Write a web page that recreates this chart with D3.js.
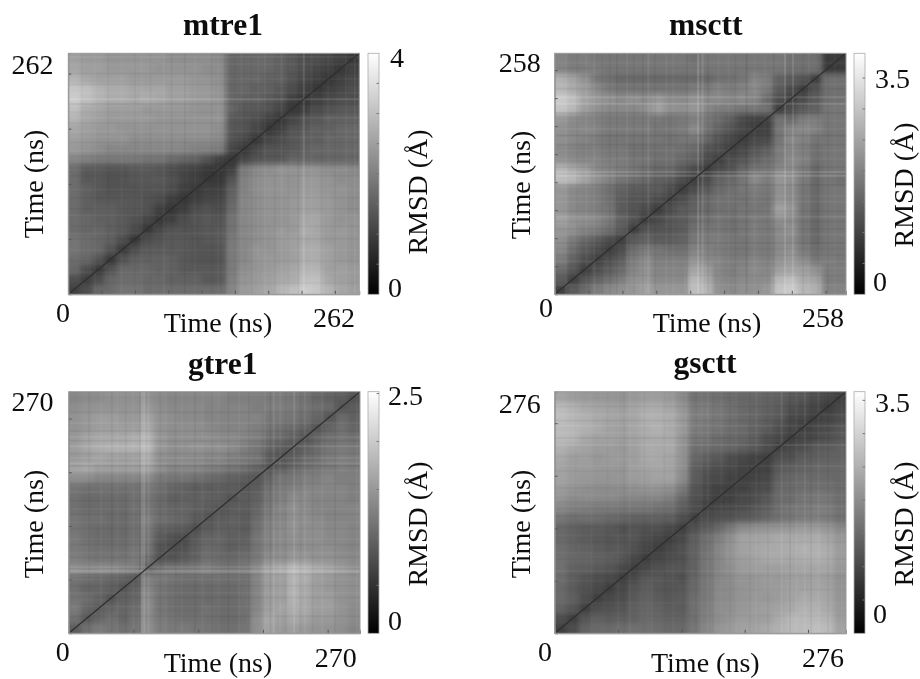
<!DOCTYPE html>
<html>
<head>
<meta charset="utf-8">
<script src="https://cdnjs.cloudflare.com/ajax/libs/d3/7.8.5/d3.min.js"></script>
<style>
  html, body { margin: 0; padding: 0; background: #fff; }
  text { font-family: "Liberation Serif", serif; fill: #111; }
</style>
</head>
<body>
<svg id="chart" width="920" height="679"></svg>
<script>
/* Data: lower triangle of each RMSD matrix in Angstrom, 24 time bins, row 0 = earliest time */
const mtre1Rows = [
  [1.0],
  [1.2,1.0],
  [1.6,1.2,0.9],
  [1.7,1.6,1.3,0.9],
  [1.8,1.7,1.6,1.3,0.9],
  [1.8,1.7,1.6,1.5,1.2,0.9],
  [1.7,1.6,1.6,1.5,1.4,1.2,0.9],
  [1.7,1.6,1.5,1.5,1.4,1.3,1.1,0.9],
  [1.7,1.5,1.5,1.5,1.4,1.4,1.3,1.0,0.9],
  [1.7,1.5,1.4,1.4,1.4,1.4,1.3,1.2,1.0,0.9],
  [1.7,1.5,1.4,1.3,1.3,1.3,1.3,1.3,1.2,1.0,0.9],
  [1.7,1.4,1.4,1.3,1.3,1.4,1.4,1.4,1.3,1.1,1.0,0.9],
  [1.7,1.4,1.4,1.3,1.3,1.4,1.4,1.3,1.2,1.1,1.0,0.9,0.9],
  [2.1,2.0,1.9,1.9,1.9,1.9,1.8,1.8,1.7,1.6,1.5,1.3,1.0,0.9],
  [2.4,2.3,2.2,2.1,2.1,2.1,2.1,2.1,2.1,2.1,2.0,2.0,1.9,1.1,0.9],
  [2.5,2.4,2.3,2.3,2.3,2.2,2.2,2.2,2.2,2.2,2.2,2.2,2.1,1.3,1.1,0.9],
  [2.6,2.5,2.4,2.4,2.3,2.3,2.3,2.3,2.3,2.3,2.3,2.3,2.2,1.4,1.3,1.1,0.9],
  [2.8,2.6,2.5,2.4,2.4,2.4,2.4,2.3,2.3,2.3,2.3,2.3,2.3,1.4,1.3,1.2,1.0,0.9],
  [3.0,2.7,2.6,2.5,2.5,2.5,2.4,2.4,2.4,2.4,2.3,2.3,2.3,1.6,1.4,1.4,1.3,1.1,0.9],
  [3.2,3.0,2.8,2.7,2.7,2.6,2.7,2.6,2.5,2.5,2.4,2.4,2.3,1.6,1.5,1.5,1.4,1.3,1.0,0.9],
  [3.1,3.0,2.8,2.7,2.7,2.6,2.6,2.6,2.5,2.5,2.4,2.4,2.3,1.6,1.6,1.5,1.5,1.4,1.2,1.0,0.9],
  [2.8,2.6,2.5,2.5,2.5,2.4,2.4,2.4,2.4,2.4,2.3,2.3,2.2,1.6,1.6,1.6,1.5,1.5,1.3,1.1,1.0,0.9],
  [2.6,2.5,2.5,2.4,2.4,2.4,2.4,2.3,2.3,2.3,2.3,2.2,2.2,1.6,1.6,1.6,1.6,1.5,1.4,1.2,1.1,1.0,0.9],
  [2.5,2.4,2.4,2.3,2.3,2.3,2.3,2.3,2.2,2.2,2.2,2.2,2.1,1.6,1.6,1.6,1.6,1.5,1.4,1.2,1.2,1.1,1.0,0.9]
];

const mscttRows = [
  [1.0],
  [1.4,1.0],
  [1.6,1.3,0.9],
  [1.9,1.5,1.2,1.0],
  [2.1,1.7,1.4,1.2,1.0],
  [2.2,1.9,1.6,1.4,1.2,1.0],
  [2.3,2.2,2.0,1.9,1.7,1.4,1.0],
  [2.5,2.3,2.2,2.1,1.9,1.5,1.3,1.0],
  [2.3,2.1,2.0,1.9,1.8,1.4,1.3,1.2,1.0],
  [2.3,2.1,2.0,1.9,1.7,1.4,1.3,1.3,1.2,1.0],
  [2.3,2.1,2.0,1.9,1.7,1.5,1.4,1.4,1.4,1.2,1.0],
  [2.9,2.8,2.5,2.2,2.0,1.8,1.7,1.6,1.5,1.4,1.2,1.0],
  [2.8,2.6,2.4,2.1,2.0,1.9,1.8,1.7,1.6,1.6,1.4,1.2,1.0],
  [2.2,2.1,2.0,2.0,1.9,1.9,1.8,1.8,1.7,1.7,1.6,1.5,1.2,1.0],
  [2.1,2.0,1.9,1.9,1.8,1.8,1.7,1.7,1.7,1.7,1.7,1.6,1.3,1.2,1.0],
  [2.2,2.1,2.0,1.9,1.8,1.8,1.8,1.8,1.8,1.7,1.8,1.8,1.6,1.3,1.1,1.0],
  [2.2,2.1,2.1,2.0,1.9,1.9,1.9,1.9,1.8,1.8,1.9,2.1,1.8,1.5,1.3,1.1,1.0],
  [2.3,2.1,2.0,1.9,1.8,1.8,1.8,1.8,1.8,1.7,1.8,1.9,1.8,1.6,1.4,1.1,1.0,1.0],
  [3.0,2.8,2.4,2.2,2.1,2.1,2.1,2.2,2.5,2.2,2.2,2.3,2.1,1.9,1.9,1.8,1.8,1.7,1.0],
  [3.1,2.9,2.5,2.3,2.2,2.1,2.2,2.1,2.3,2.1,2.1,2.2,2.1,2.1,2.0,2.1,2.0,1.6,1.2,1.0],
  [2.8,2.6,2.4,2.1,1.9,1.8,1.8,1.8,1.8,1.8,1.8,1.9,1.9,2.0,1.9,2.0,2.1,1.9,1.4,1.2,1.0],
  [2.7,2.5,2.2,1.8,1.7,1.6,1.6,1.6,1.6,1.6,1.6,1.6,1.6,1.7,1.7,1.8,2.0,1.9,1.5,1.4,1.3,1.0],
  [2.0,1.9,1.9,1.9,1.8,1.8,1.8,1.8,1.8,1.8,1.8,1.8,1.8,1.8,1.8,1.8,1.8,1.8,1.8,1.7,1.7,1.7,0.9],
  [2.0,1.9,1.9,1.8,1.8,1.8,1.8,1.8,1.8,1.8,1.8,1.7,1.8,1.8,1.8,1.8,1.8,1.8,1.8,1.7,1.7,1.7,0.9,0.9]
];

const gtre1Rows = [
  [0.9],
  [1.1,0.9],
  [1.2,1.0,0.9],
  [1.15,1.1,1.0,0.85],
  [1.1,1.0,1.0,0.95,0.85],
  [1.15,1.1,1.05,1.0,0.95,0.85],
  [1.4,1.35,1.35,1.35,1.3,1.25,0.95],
  [1.25,1.2,1.15,1.15,1.15,1.2,1.1,0.85],
  [1.2,1.15,1.1,1.1,1.1,1.15,1.15,0.85,0.8],
  [1.2,1.1,1.05,1.05,1.05,1.1,1.15,0.9,0.8,0.75],
  [1.15,1.1,1.05,1.05,1.05,1.1,1.2,1.0,0.95,0.9,0.8],
  [1.15,1.1,1.1,1.05,1.05,1.1,1.25,1.1,1.05,1.0,0.9,0.85],
  [1.1,1.05,1.05,1.05,1.05,1.1,1.15,1.05,1.0,1.0,0.95,0.9,0.85],
  [1.1,1.05,1.05,1.05,1.05,1.1,1.15,1.05,0.95,0.95,0.95,0.95,0.9,0.85],
  [1.15,1.1,1.1,1.1,1.1,1.1,1.2,1.1,1.0,0.95,0.9,0.9,0.9,0.9,0.85],
  [1.4,1.4,1.3,1.3,1.3,1.3,1.35,1.2,1.15,1.15,1.1,1.05,1.0,0.95,0.9,0.85],
  [1.6,1.65,1.55,1.55,1.55,1.55,1.6,1.4,1.3,1.3,1.3,1.25,1.2,1.15,1.1,1.0,0.85],
  [1.5,1.55,1.6,1.55,1.55,1.55,1.65,1.4,1.35,1.35,1.35,1.3,1.3,1.25,1.2,1.15,0.9,0.85],
  [1.55,1.65,1.7,1.75,1.75,1.75,1.8,1.5,1.4,1.4,1.45,1.4,1.4,1.35,1.25,1.15,1.0,0.9,0.85],
  [1.5,1.6,1.65,1.65,1.65,1.7,1.75,1.5,1.4,1.4,1.4,1.4,1.35,1.35,1.3,1.25,1.1,1.05,0.95,0.85],
  [1.45,1.5,1.55,1.55,1.55,1.55,1.65,1.45,1.4,1.4,1.4,1.35,1.3,1.3,1.3,1.25,1.15,1.1,1.05,1.0,0.85],
  [1.45,1.5,1.55,1.55,1.5,1.5,1.6,1.45,1.4,1.35,1.35,1.3,1.3,1.3,1.3,1.3,1.2,1.2,1.15,1.1,1.0,0.85],
  [1.4,1.45,1.45,1.45,1.45,1.45,1.5,1.4,1.35,1.35,1.35,1.3,1.3,1.3,1.3,1.25,1.25,1.25,1.2,1.15,1.1,1.05,0.85],
  [1.3,1.35,1.35,1.4,1.4,1.4,1.4,1.35,1.3,1.3,1.3,1.3,1.3,1.25,1.25,1.25,1.2,1.2,1.15,1.1,1.0,0.95,0.9,0.8]
];

const gscttRows = [
  [0.9],
  [1.1,0.9],
  [1.4,1.2,0.9],
  [1.5,1.35,1.1,0.9],
  [1.5,1.3,1.15,1.05,0.9],
  [1.55,1.35,1.2,1.1,1.05,0.9],
  [1.6,1.4,1.35,1.25,1.2,1.05,0.9],
  [1.6,1.5,1.45,1.4,1.35,1.25,1.05,0.9],
  [1.55,1.45,1.4,1.3,1.25,1.25,1.15,1.0,0.9],
  [1.5,1.4,1.3,1.25,1.2,1.2,1.2,1.1,1.0,0.9],
  [1.5,1.4,1.3,1.3,1.25,1.15,1.2,1.15,1.15,1.05,0.9],
  [1.7,1.6,1.6,1.55,1.5,1.45,1.4,1.4,1.4,1.35,1.15,0.95],
  [1.9,1.8,1.75,1.7,1.7,1.65,1.65,1.65,1.6,1.55,1.3,1.1,0.9],
  [2.1,2.0,2.0,1.95,1.95,1.9,1.9,1.9,1.9,1.8,1.5,1.15,1.0,0.9],
  [2.2,2.1,2.05,2.0,2.0,2.0,2.05,2.1,2.1,2.05,1.75,1.2,1.05,0.95,0.9],
  [2.3,2.2,2.15,2.1,2.1,2.1,2.2,2.25,2.3,2.3,2.0,1.3,1.1,1.05,0.95,0.9],
  [2.3,2.2,2.2,2.15,2.15,2.1,2.25,2.3,2.35,2.3,2.05,1.35,1.2,1.1,1.05,0.95,0.9],
  [2.4,2.25,2.25,2.15,2.2,2.2,2.25,2.4,2.4,2.35,2.1,1.5,1.35,1.25,1.1,1.0,0.95,0.9],
  [2.5,2.4,2.3,2.2,2.2,2.15,2.25,2.4,2.4,2.4,2.1,1.6,1.55,1.5,1.45,1.35,1.25,1.1,0.9],
  [2.65,2.6,2.4,2.3,2.3,2.25,2.3,2.4,2.45,2.4,2.15,1.7,1.65,1.55,1.5,1.45,1.35,1.15,1.05,0.9],
  [2.65,2.6,2.5,2.4,2.3,2.25,2.35,2.45,2.5,2.4,2.2,1.75,1.7,1.65,1.55,1.5,1.4,1.3,1.1,1.0,0.9],
  [2.7,2.6,2.5,2.4,2.35,2.3,2.35,2.5,2.5,2.45,2.2,1.8,1.75,1.7,1.6,1.5,1.45,1.35,1.25,1.05,1.0,0.9],
  [2.65,2.55,2.4,2.35,2.3,2.25,2.35,2.45,2.45,2.35,2.15,1.75,1.75,1.7,1.6,1.5,1.45,1.4,1.3,1.15,1.1,1.0,0.9],
  [2.3,2.2,2.15,2.1,2.1,2.05,2.15,2.2,2.2,2.15,1.95,1.6,1.6,1.55,1.5,1.45,1.45,1.4,1.35,1.25,1.2,1.1,1.0,0.9]
];

/* Thin stripes that run across the maps: [time in ns, RMSD change in Angstrom] */
const mtre1Bands = [[212,.35],[192,.15],[156,.1],[177,.1],[258,.15],[86,.1],[114,.08],[74,-.1],[93,-.1],[105,-.12],[129,-.1],[141,-.12],[207,-.15],[228,-.12],[240,-.12],[186,-.1],[24,.08],[36,-.08],[48,.08],[60,-.08],[12,-.08],[66,.08],[135,.08],[150,-.08],[165,-.1],[171,.08],[198,-.08],[219,.1],[234,.08],[250,.08]];
const mscttBands = [[127,.4],[131,.3],[204,.35],[211,.3],[83,.2],[99,.12],[35,.15],[64,.12],[145,.1],[154,.1],[177,.1],[186,.08],[225,.1],[248,.08],[55,-.15],[78,-.12],[89,-.12],[117,-.15],[136,-.15],[170,-.2],[194,-.15],[220,-.12],[233,-.1],[242,-.1],[49,-.1],[10,.1],[20,-.1],[42,-.1],[28,.1],[70,-.1],[160,-.12],[105,.1]];
const gtre1Bands = [[70,.25],[74,.12],[68,.2],[90,.06],[105,.06],[124,.06],[139,.06],[158,.06],[182,.08],[190,.14],[196,.1],[209,.18],[219,.1],[235,.08],[267,.08],[30,.06],[45,.06],[60,.06],[66,-.08],[85,-.08],[99,-.08],[117,-.07],[133,-.07],[148,-.07],[167,-.07],[187,-.1],[201,-.08],[215,-.08],[226,-.08],[247,-.08],[19,-.07],[40,-.07],[53,-.07]];
const gscttBands = [[71,.1],[92,.07],[139,.08],[145,.12],[158,.08],[172,.07],[191,.1],[215,.2],[229,.1],[237,.16],[250,.12],[272,.08],[66,-.08],[85,-.08],[104,-.08],[122,-.08],[134,-.08],[150,-.08],[166,-.08],[185,-.08],[202,-.08],[223,-.12],[243,-.12],[259,-.1],[20,-.06],[50,-.06],[35,.06],[60,.06],[112,.06]];

const panelNames = ["mtre1", "msctt", "gtre1", "gsctt"];
const simLengths = [262, 258, 270, 276];
const rmsdMax = [4, 3.9, 2.52, 3.63];
const rmsdLabels = ["4", "3.5", "2.5", "3.5"];
const xTickSteps = [30, 30, 60, 60];
const yTickSteps = [60, 30, 60, 60];
const allRows = [mtre1Rows, mscttRows, gtre1Rows, gscttRows];
const allBands = [mtre1Bands, mscttBands, gtre1Bands, gscttBands];

const layouts = [
  { x0: 68.3, x1: 359.3, y0: 53.3, y1: 294.3, cb0: 368, cb1: 379,
    title: [223, 35], topN: [53.5, 74], zero: [63, 322], endN: [355, 327], xTitle: [218, 332],
    yTitle: [43, 184], cbTitle: [427, 192], cbTop: [390, 67], cbZero: [388, 297] },
  { x0: 554.7, x1: 846, y0: 53.3, y1: 294.3, cb0: 854, cb1: 865,
    title: [705.7, 35], topN: [540.7, 72], zero: [546, 317], endN: [844, 327], xTitle: [707, 332],
    yTitle: [530, 185], cbTitle: [913, 185], cbTop: [875, 88], cbZero: [873, 291] },
  { x0: 68.7, x1: 360, y0: 391.7, y1: 633.3, cb0: 368, cb1: 379,
    title: [222.7, 374], topN: [53.5, 411], zero: [62.7, 661], endN: [356.7, 667], xTitle: [218, 672],
    yTitle: [43, 524], cbTitle: [427, 524], cbTop: [388, 405], cbZero: [388, 630] },
  { x0: 554.7, x1: 846, y0: 391.7, y1: 633.3, cb0: 854, cb1: 865,
    title: [705, 373], topN: [540.7, 413], zero: [545, 661], endN: [844, 667], xTitle: [705.3, 672],
    yTitle: [530, 524], cbTitle: [913, 524], cbTop: [875, 412], cbZero: [873, 623] }
];

const svg = d3.select("#chart");
const defs = svg.append("defs");

/* softening, the reference is a resampled raster */
defs.append("filter").attr("id", "soften")
    .attr("x", "-5%").attr("y", "-5%").attr("width", "110%").attr("height", "110%")
  .append("feGaussianBlur").attr("stdDeviation", 2.6);
defs.append("filter").attr("id", "softenBands")
    .attr("x", "-5%").attr("y", "-5%").attr("width", "110%").attr("height", "110%")
  .append("feGaussianBlur").attr("stdDeviation", 0.7);
defs.append("filter").attr("id", "softenText")
    .attr("x", "-5%").attr("y", "-5%").attr("width", "110%").attr("height", "110%")
  .append("feGaussianBlur").attr("stdDeviation", 0.3);

function drawPanel(k) {
    const L = layouts[k], rows = allRows[k], total = simLengths[k], maxV = rmsdMax[k];
    const bins = d3.range(rows.length);
    const g = svg.append("g");

    const x = d3.scaleLinear().domain([0, total]).range([L.x0, L.x1]);
    const y = d3.scaleLinear().domain([0, total]).range([L.y1, L.y0]);
    const xBin = d3.scaleBand().domain(bins).range([L.x0, L.x1]);
    const yBin = d3.scaleBand().domain(bins).range([L.y1, L.y0]);
    const color = d3.scaleLinear().domain([0, maxV]).range(["#000", "#fff"]);

    /* mirror the triangle so each cell is drawn from the same value */
    const cells = [];
    rows.forEach((row, i) => row.forEach((v, j) => {
        cells.push({ col: j, row: i, v });
        if (i !== j) cells.push({ col: i, row: j, v });
    }));

    defs.append("clipPath").attr("id", "plot" + k)
      .append("rect").attr("x", L.x0).attr("y", L.y0)
        .attr("width", L.x1 - L.x0).attr("height", L.y1 - L.y0);

    const bleed = 9; // outer cells overshoot so the blur does not fade at the frame
    const last = rows.length - 1;
    const plot = g.append("g").attr("clip-path", `url(#plot${k})`);
    plot.append("g").attr("filter", "url(#soften)")
      .selectAll("rect")
      .data(cells)
      .join("rect")
        .attr("x", d => xBin(d.col) - (d.col === 0 ? bleed : 0))
        .attr("y", d => yBin(d.row) - (d.row === last ? bleed : 0))
        .attr("width", d => xBin.bandwidth() + 0.5 + (d.col === 0 || d.col === last ? bleed : 0))
        .attr("height", d => yBin.bandwidth() + 0.5 + (d.row === 0 || d.row === last ? bleed : 0))
        .attr("fill", d => color(d.v));

    /* stripes, same times along both axes */
    const bands = plot.append("g").attr("filter", "url(#softenBands)");
    const bandAlpha = d => Math.min(1, 1.5 * Math.abs(d[1]) / maxV);
    bands.selectAll(".v").data(allBands[k]).join("line").attr("class", "v")
        .attr("x1", d => x(d[0])).attr("x2", d => x(d[0]))
        .attr("y1", L.y0).attr("y2", L.y1)
        .attr("stroke", d => d[1] > 0 ? "#fff" : "#000")
        .attr("stroke-opacity", bandAlpha).attr("stroke-width", 2);
    bands.selectAll(".h").data(allBands[k]).join("line").attr("class", "h")
        .attr("y1", d => y(d[0])).attr("y2", d => y(d[0]))
        .attr("x1", L.x0).attr("x2", L.x1)
        .attr("stroke", d => d[1] > 0 ? "#fff" : "#000")
        .attr("stroke-opacity", bandAlpha).attr("stroke-width", 2);

    /* diagonal: a frame against itself */
    plot.append("line")
        .attr("x1", x(0)).attr("y1", y(0)).attr("x2", x(total)).attr("y2", y(total))
        .attr("stroke", color(0.18 * maxV)).attr("stroke-width", 1.2);

    /* Axes */
    const xAxis = d3.axisBottom(x).tickValues(d3.range(xTickSteps[k], total, xTickSteps[k])).tickSize(-3.5).tickFormat("");
    const yAxis = d3.axisLeft(y).tickValues(d3.range(yTickSteps[k], total, yTickSteps[k])).tickSize(-3).tickFormat("");
    g.append("g").attr("transform", `translate(0,${L.y1})`).call(xAxis);
    g.append("g").attr("transform", `translate(${L.x0},0)`).call(yAxis);
    g.selectAll(".domain").attr("stroke", "#8a8a8a");
    g.selectAll(".tick line").attr("stroke", "#555");
    g.append("rect").attr("x", L.x0).attr("y", L.y0)
        .attr("width", L.x1 - L.x0).attr("height", L.y1 - L.y0)
        .attr("fill", "none").attr("stroke", "#9a9a9a");

    /* Colorbar */
    const grad = defs.append("linearGradient").attr("id", "cb" + k)
        .attr("x1", 0).attr("y1", 1).attr("x2", 0).attr("y2", 0);
    grad.selectAll("stop").data([0, maxV]).join("stop")
        .attr("offset", d => d / maxV).attr("stop-color", d => color(d));
    g.append("rect").attr("x", L.cb0).attr("y", L.y0)
        .attr("width", L.cb1 - L.cb0).attr("height", L.y1 - L.y0)
        .attr("fill", `url(#cb${k})`).attr("stroke", "#aaa").attr("stroke-width", 0.8);
    const cbY = d3.scaleLinear().domain([0, maxV]).range([L.y1, L.y0]);
    g.append("g").selectAll("line").data(d3.range(0.5, maxV, 0.5)).join("line")
        .attr("x1", L.cb1 - 2.5).attr("x2", L.cb1)
        .attr("y1", d => cbY(d)).attr("y2", d => cbY(d))
        .attr("stroke", "#777");

    /* Text */
    const labels = g.append("g").attr("filter", "url(#softenText)");
    const put = (pos, str, size, anchor, extra) => labels.append("text")
        .attr("x", pos[0]).attr("y", pos[1])
        .attr("text-anchor", anchor).style("font-size", size + "px")
        .style("font-weight", extra || "normal").text(str);
    put(L.title, panelNames[k], 31.5, "middle", "bold");
    put(L.topN, total, 28, "end");
    put(L.zero, 0, 28, "middle");
    put(L.endN, total, 28, "end");
    put(L.xTitle, "Time (ns)", 28, "middle");
    put(L.cbTop, rmsdLabels[k], 28, "start");
    put(L.cbZero, 0, 28, "start");
    labels.append("text").attr("transform", `translate(${L.yTitle[0]},${L.yTitle[1]}) rotate(-90)`)
        .attr("text-anchor", "middle").style("font-size", "28px").text("Time (ns)");
    labels.append("text").attr("transform", `translate(${L.cbTitle[0]},${L.cbTitle[1]}) rotate(-90)`)
        .attr("text-anchor", "middle").style("font-size", "28px").text("RMSD (Å)");
}

panelNames.forEach((name, k) => drawPanel(k));
</script>
</body>
</html>
